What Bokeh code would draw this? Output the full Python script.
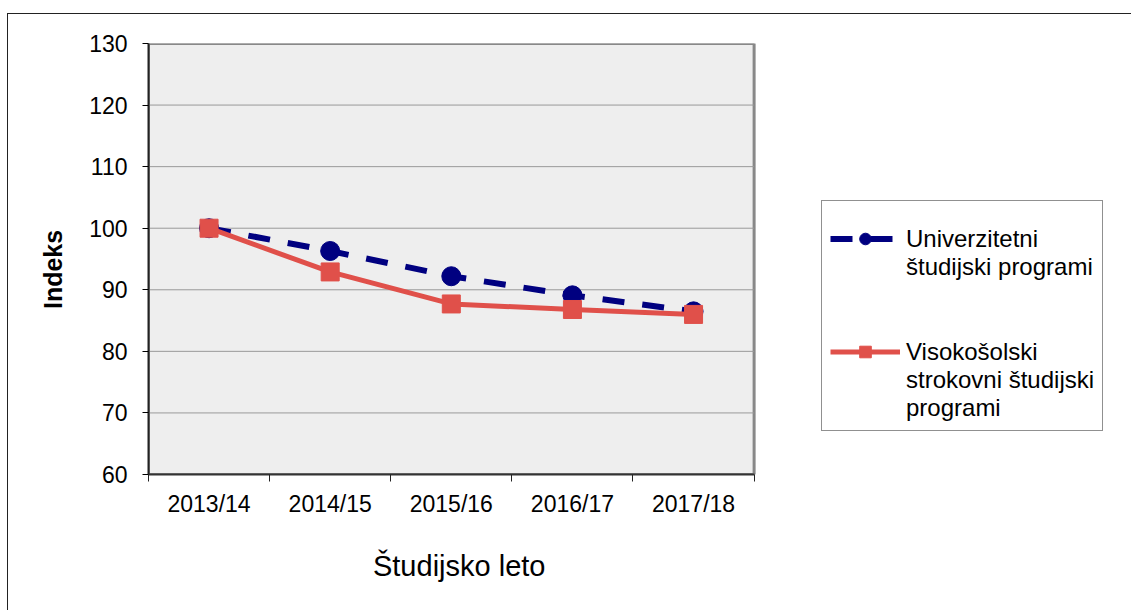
from bokeh.plotting import figure
from bokeh.models import FixedTicker, Legend, LegendItem, ColumnDataSource, BoxAnnotation
from bokeh.embed import file_html
from bokeh.resources import INLINE

categories = ["2013/14", "2014/15", "2015/16", "2016/17", "2017/18"]
univerzitetni = [100.0, 96.3, 92.2, 89.1, 86.5]
visokosolski = [100.0, 92.9, 87.7, 86.8, 86.0]
series_names = ["Univerzitetni študijski programi", "Visokošolski strokovni študijski programi"]
y_ticks = [60, 70, 80, 90, 100, 110, 120, 130]
x_title = "Študijsko leto"
y_title = "Indeks"

FONT = "Liberation Sans"
n = len(categories)
xs = [i + 0.5 for i in range(n)]
NBSP = "\u00a0"

# layout (pixels): plot area 605 px wide inside a frame that runs to the right edge
FIG_W, FIG_H = 1124, 597
LEFT, TOP, BOTTOM = 140, 29, 137
AREA_W = 605
FRAME_W = FIG_W - 1 - LEFT
x_end = n * FRAME_W / AREA_W

p = figure(width=FIG_W, height=FIG_H, output_backend="svg", toolbar_location=None,
           x_range=(0, x_end), y_range=(y_ticks[0], y_ticks[-1]),
           min_border_left=LEFT, min_border_right=0, min_border_top=TOP, min_border_bottom=BOTTOM)
p.margin = (13, 0, 0, 7)
p.styles = {"border-top": "1px solid #222", "border-left": "1px solid #222"}

p.background_fill_color = "white"
p.border_fill_color = "white"
p.outline_line_color = None
p.xgrid.grid_line_color = None
p.ygrid.grid_line_color = None

# grey plot area
p.add_layout(BoxAnnotation(left=0, right=n, bottom=y_ticks[0], top=y_ticks[-1],
                           fill_color="#EEEEEE", fill_alpha=1,
                           line_color="#888888", line_width=3, line_alpha=1,
                           level="underlay"))
# horizontal grid lines limited to the plot area
p.segment(x0=[0] * len(y_ticks), x1=[n] * len(y_ticks), y0=y_ticks, y1=y_ticks,
          line_color="#999999", line_width=1)

p.yaxis.ticker = FixedTicker(ticks=y_ticks)
p.yaxis.axis_line_color = "#222222"
p.yaxis.axis_line_width = 2
p.yaxis.major_tick_in = 0
p.yaxis.major_tick_out = 6
p.yaxis.minor_tick_line_color = None
p.yaxis.major_label_text_font = FONT
p.yaxis.major_label_text_font_size = "23px"
p.yaxis.major_label_text_color = "black"
p.yaxis.major_label_standoff = 15
p.yaxis.axis_label = y_title + NBSP * 3
p.yaxis.axis_label_text_font = FONT
p.yaxis.axis_label_text_font_size = "25px"
p.yaxis.axis_label_text_font_style = "bold"
p.yaxis.axis_label_text_color = "black"
p.yaxis.axis_label_standoff = 19

p.xaxis.bounds = (0, n)
p.xaxis.ticker = FixedTicker(ticks=xs, minor_ticks=list(range(n + 1)))
p.xaxis.major_label_overrides = {x: c for x, c in zip(xs, categories)}
p.xaxis.axis_line_color = "#333333"
p.xaxis.axis_line_width = 2
p.xaxis.major_tick_in = 0
p.xaxis.major_tick_out = 0
p.xaxis.minor_tick_in = 0
p.xaxis.minor_tick_out = 7
p.xaxis.minor_tick_line_color = "#222222"
p.xaxis.major_label_text_font = FONT
p.xaxis.major_label_text_font_size = "23px"
p.xaxis.major_label_text_color = "black"
p.xaxis.major_label_standoff = 9
# the label is centred on the whole frame; pad it so it sits under the plot area
p.xaxis.axis_label = x_title + NBSP * 45
p.xaxis.axis_label_text_font = FONT
p.xaxis.axis_label_text_font_size = "29px"
p.xaxis.axis_label_text_font_style = "normal"
p.xaxis.axis_label_text_color = "black"
p.xaxis.axis_label_standoff = 30

BLUE = "#000080"
RED = "#E0504A"

src = ColumnDataSource(dict(x=xs, u=univerzitetni, v=visokosolski))

l1 = p.line("x", "u", source=src, line_color=BLUE, line_width=6, line_dash="22 18")
m1 = p.scatter("x", "u", source=src, marker="circle", size=19, fill_color=BLUE, line_color=BLUE)
l2 = p.line("x", "v", source=src, line_color=RED, line_width=5)
m2 = p.scatter("x", "v", source=src, marker="square", size=18, fill_color=RED, line_color=RED)

# legend labels wrapped as in the reference (first line carries the glyph)
items = [
    LegendItem(label="Univerzitetni", renderers=[l1, m1]),
    LegendItem(label="študijski programi\n\n\n", renderers=[]),
    LegendItem(label="Visokošolski", renderers=[l2, m2]),
    LegendItem(label="strokovni študijski\nprogrami", renderers=[]),
]
legend = Legend(items=items, location=(AREA_W + 68, 43))
legend.title = " "
legend.title_text_font_size = "10px"
legend.title_standoff = 4
legend.label_text_font = FONT
legend.label_text_font_size = "24px"
legend.label_text_color = "black"
legend.glyph_width = 70
legend.glyph_height = 29
legend.label_height = 20
legend.label_standoff = 6
legend.spacing = 0
legend.padding = 8
legend.margin = 0
legend.border_line_color = "#222222"
legend.border_line_width = 1
legend.background_fill_color = "white"
legend.background_fill_alpha = 1
p.add_layout(legend, "center")

open("out.html", "w").write(file_html(p, INLINE))
